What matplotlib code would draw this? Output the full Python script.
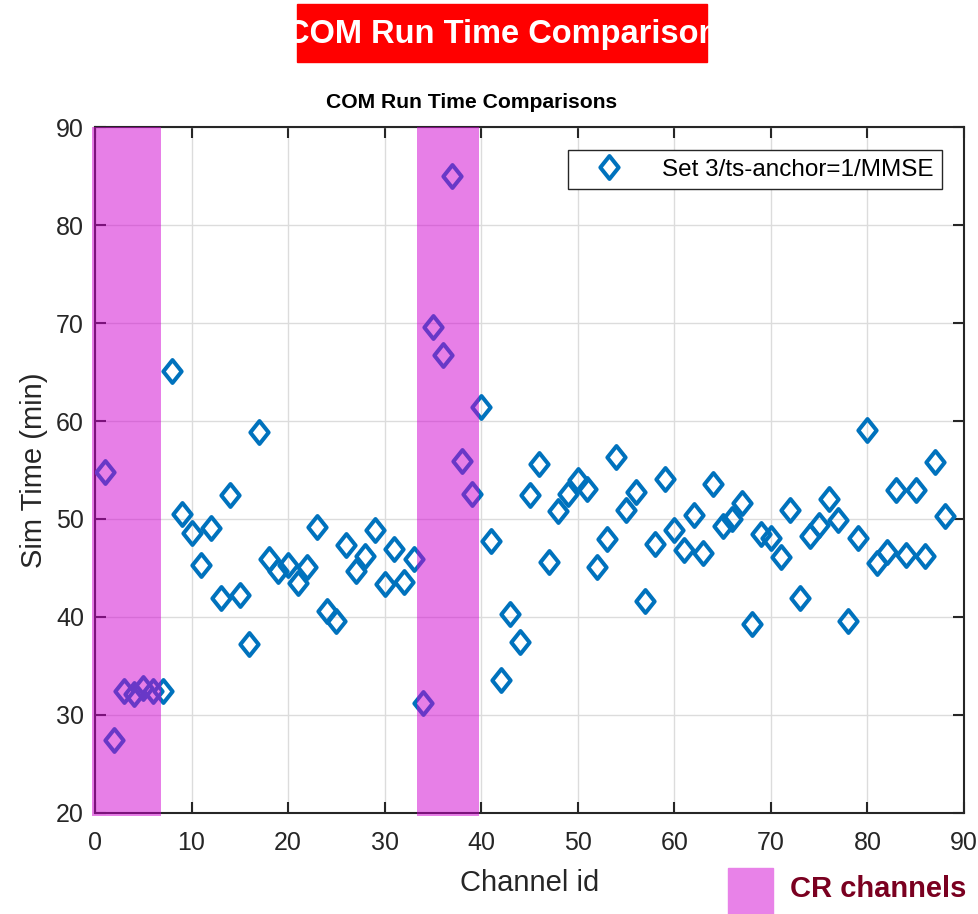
import numpy as np
import matplotlib
matplotlib.use('Agg')
import matplotlib.pyplot as plt
from matplotlib.path import Path
from matplotlib.patches import Rectangle

plt.rcParams['font.family'] = ['Liberation Sans', 'DejaVu Sans']

# channel ids and sim times (min)
channel_id = np.arange(1, 89)
sim_time = [54.8, 27.4, 32.4, 32.1, 32.8, 32.4, 32.4, 65.1, 50.5, 48.6,
            45.3, 49.1, 41.9, 52.4, 42.2, 37.2, 58.9, 45.9, 44.7, 45.3,
            43.5, 45.1, 49.2, 40.6, 39.6, 47.3, 44.7, 46.2, 48.9, 43.4,
            46.9, 43.6, 45.9, 31.2, 69.6, 66.7, 85.0, 55.9, 52.6, 61.4,
            47.8, 33.6, 40.3, 37.4, 52.4, 55.6, 45.6, 50.8, 52.6, 54.0,
            53.1, 45.1, 48.0, 56.3, 50.9, 52.8, 41.6, 47.5, 54.1, 48.9,
            46.8, 50.4, 46.5, 53.6, 49.3, 50.0, 51.6, 39.3, 48.5, 48.1,
            46.1, 50.9, 41.9, 48.3, 49.4, 52.0, 49.9, 39.6, 48.1, 59.1,
            45.5, 46.6, 53.0, 46.3, 53.0, 46.2, 55.8, 50.3]
series_label = 'Set 3/ts-anchor=1/MMSE'

# CR channel bands (x ranges)
cr_spans = [(-0.3, 6.8), (33.4, 39.8)]
cr_label = 'CR channels'

xticks = np.arange(0, 91, 10)
yticks = np.arange(20, 91, 10)

blue = '#0072BD'
pink = (0.82, 0.0, 0.82, 0.5)

W, H = 979, 914
fig = plt.figure(figsize=(W / 100, H / 100), dpi=100)
ax = fig.add_axes([95 / W, 1 - 813 / H, 869 / W, 686 / H])

diamond = Path([(0, 1), (0.8, 0), (0, -1), (-0.8, 0), (0, 1)],
               [Path.MOVETO, Path.LINETO, Path.LINETO, Path.LINETO, Path.CLOSEPOLY])

ax.plot(channel_id, sim_time, linestyle='none', marker=diamond, markersize=16.5,
        markerfacecolor='none', markeredgecolor=blue, markeredgewidth=2.9,
        label=series_label, zorder=3)

for x0, x1 in cr_spans:
    ax.axvspan(x0, x1, ymin=-0.004, ymax=1, color=pink, lw=0, zorder=10, clip_on=False)

ax.set_xlim(0, 90)
ax.set_ylim(20, 90)
ax.set_xticks(xticks)
ax.set_yticks(yticks)
ax.grid(True, color='#dcdcdc', linewidth=1)
ax.set_axisbelow(True)
ax.tick_params(direction='in', length=8, width=1.5, colors='#262626', labelsize=18,
               top=True, right=True)
ax.tick_params(axis='x', pad=13)
ax.tick_params(axis='y', pad=8)
for s in ax.spines.values():
    s.set_color('#262626')
    s.set_linewidth(1.5)

ax.set_xlabel('Channel id', fontsize=21, color='#262626', labelpad=10)
ax.set_ylabel('Sim Time (min)', fontsize=21, color='#262626', labelpad=6)

leg = ax.legend(loc='upper right', bbox_to_anchor=((942 - 95) / 869, 1 - 23 / 686),
                borderaxespad=0, fontsize=17.5, fancybox=False, framealpha=1,
                edgecolor='#262626', handlelength=2.6, handletextpad=0.9,
                borderpad=0.35)
leg.get_frame().set_linewidth(1.0)

fig.text(472 / W, 1 - 103 / H, 'COM Run Time Comparisons', ha='center', va='center',
         fontsize=15.2, fontweight='bold')

# red banner on top
fig.patches.append(Rectangle((297 / W, 1 - 62 / H), 410 / W, 58 / H,
                             transform=fig.transFigure, color='#ff0000', zorder=0))
fig.text(502 / W, 1 - 34 / H, 'COM Run Time Comparison', ha='center', va='center',
         fontsize=23.5, fontweight='bold', color='white')

# CR channels key
fig.patches.append(Rectangle((728 / W, 0), 45 / W, 46 / H,
                             transform=fig.transFigure, color='#e882e8', zorder=0))
fig.text(790 / W, 1 - 889 / H, cr_label, ha='left', va='center',
         fontsize=21, fontweight='bold', color='#7a0020')

fig.savefig('out.png', dpi=100)
